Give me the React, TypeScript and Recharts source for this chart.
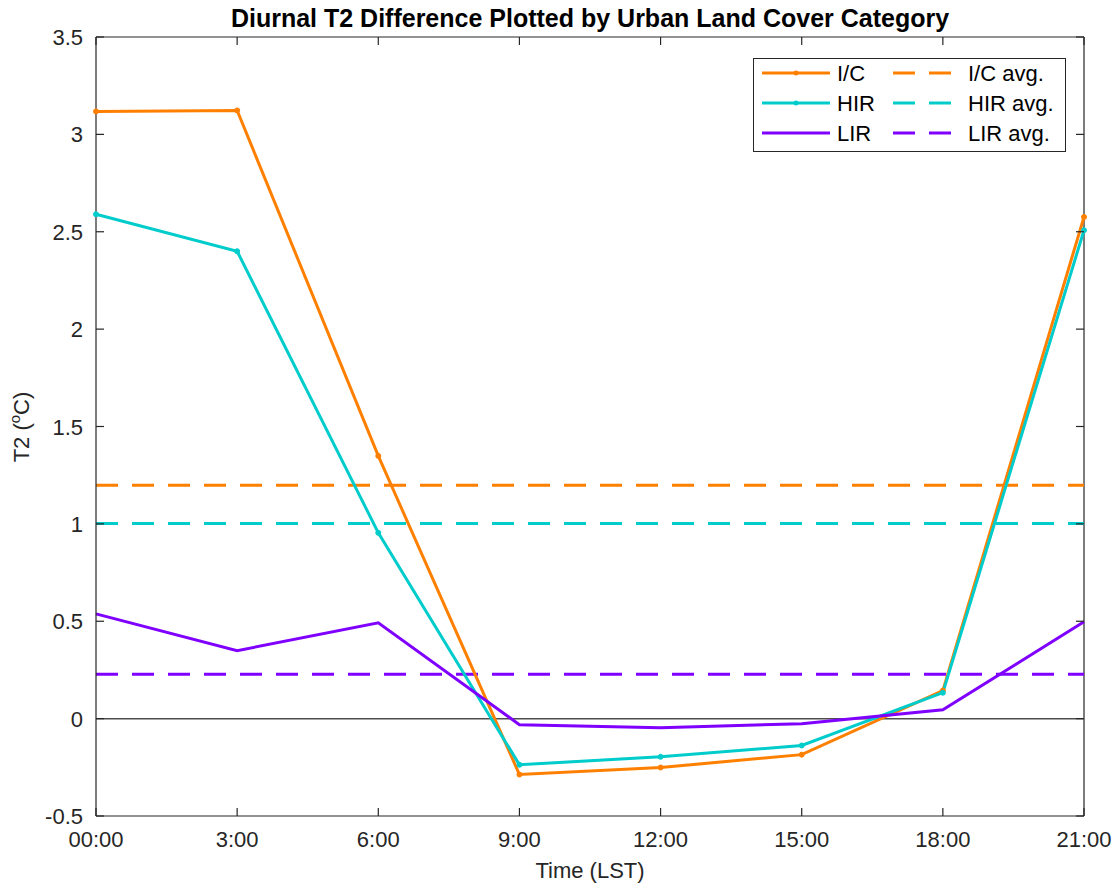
import React from 'react';
import { LineChart, Line, XAxis, YAxis, ReferenceLine, Legend } from 'recharts';

// Hour of day (LST) and the urban-minus-reference T2 difference for each land cover class
const hours = [0, 3, 6, 9, 12, 15, 18, 21];
const hourLabels = ['00:00', '3:00', '6:00', '9:00', '12:00', '15:00', '18:00', '21:00'];
const icValues = [3.118, 3.123, 1.349, -0.287, -0.251, -0.185, 0.144, 2.576];
const hirValues = [2.59, 2.4, 0.954, -0.237, -0.196, -0.138, 0.133, 2.508];
const lirValues = [0.538, 0.349, 0.492, -0.031, -0.047, -0.026, 0.046, 0.497];
const yTicks = [-0.5, 0, 0.5, 1, 1.5, 2, 2.5, 3, 3.5];
const yTickLabels = ['-0.5', '0', '0.5', '1', '1.5', '2', '2.5', '3', '3.5'];

const IC_COLOR = '#ff8000';
const HIR_COLOR = '#00cccc';
const LIR_COLOR = '#8000ff';
const AXIS_COLOR = '#262626';
const FONT = '"Liberation Sans", Arial, Helvetica, sans-serif';

// plot box (pixels inside the 1118x886 chart)
const BOX = { left: 96, right: 1084, top: 37, bottom: 816 };
const TICK_LEN = 8;
const X_TICK_GAP = 15;

const mean = (v: number[]) => v.reduce((a, b) => a + b, 0) / v.length;
const icAvg = mean(icValues);
const hirAvg = mean(hirValues);
const lirAvg = mean(lirValues);

const data = hours.map((h, i) => ({
  hour: h,
  ic: icValues[i],
  hir: hirValues[i],
  lir: lirValues[i],
}));

const legendItems = [
  { name: 'I/C', color: IC_COLOR, dashed: false, marker: true },
  { name: 'I/C avg.', color: IC_COLOR, dashed: true, marker: false },
  { name: 'HIR', color: HIR_COLOR, dashed: false, marker: true },
  { name: 'HIR avg.', color: HIR_COLOR, dashed: true, marker: false },
  { name: 'LIR', color: LIR_COLOR, dashed: false, marker: false },
  { name: 'LIR avg.', color: LIR_COLOR, dashed: true, marker: false },
];

const LegendBox = () => (
  <svg width={313} height={94} style={{ display: 'block' }}>
    <rect x={0.5} y={0.5} width={312} height={93} fill="#fff" stroke={AXIS_COLOR} strokeWidth={1} />
    {legendItems.map((it, i) => {
      const col = i % 2;
      const row = Math.floor(i / 2);
      const cy = 15 + row * 30;
      const lx = col === 0 ? 9 : 140;
      const lw = col === 0 ? 68 : 58;
      const tx = col === 0 ? 84 : 215;
      return (
        <g key={it.name}>
          <line
            x1={lx}
            x2={lx + lw}
            y1={cy}
            y2={cy}
            stroke={it.color}
            strokeWidth={3}
            strokeDasharray={it.dashed ? '22 14' : undefined}
          />
          {it.marker && <circle cx={lx + lw / 2} cy={cy} r={2.5} fill={it.color} />}
          <text x={tx} y={cy + 8} fontSize={22} fontFamily={FONT} fill="#000">
            {it.name}
          </text>
        </g>
      );
    })}
  </svg>
);

// x tick: label below the box, inward tick marks on the bottom and top edges
const XTick = (props: any) => {
  const { x, y, payload } = props;
  const v = payload.value as number;
  const label = hourLabels[hours.indexOf(v)] ?? '';
  const axisY = y - X_TICK_GAP;
  return (
    <g>
      <line x1={x} x2={x} y1={axisY} y2={axisY - TICK_LEN} stroke={AXIS_COLOR} strokeWidth={1.2} />
      <line x1={x} x2={x} y1={BOX.top} y2={BOX.top + TICK_LEN} stroke={AXIS_COLOR} strokeWidth={1.2} />
      <text x={x} y={y + 16} textAnchor="middle" fontSize={22} fontFamily={FONT} fill={AXIS_COLOR}>
        {label}
      </text>
    </g>
  );
};

// y tick: label left of the box, inward tick marks on the left and right edges
const YTick = (props: any) => {
  const { y, payload } = props;
  const v = payload.value as number;
  const label = yTickLabels[yTicks.indexOf(v)] ?? '';
  return (
    <g>
      <line x1={BOX.left} x2={BOX.left + TICK_LEN} y1={y} y2={y} stroke={AXIS_COLOR} strokeWidth={1.2} />
      <line x1={BOX.right} x2={BOX.right - TICK_LEN} y1={y} y2={y} stroke={AXIS_COLOR} strokeWidth={1.2} />
      <text x={BOX.left - 13} y={y + 8} textAnchor="end" fontSize={22} fontFamily={FONT} fill={AXIS_COLOR}>
        {label}
      </text>
    </g>
  );
};

const YLabel = () => (
  <text
    x={29}
    y={427}
    transform="rotate(-90, 29, 427)"
    textAnchor="middle"
    fontSize={22}
    fontFamily={FONT}
    fill={AXIS_COLOR}
  >
    T2 (<tspan fontSize={15} dy={-9}>o</tspan>
    <tspan dy={9}>C)</tspan>
  </text>
);

const dot = (color: string) => ({ r: 2.5, fill: color, stroke: color, strokeWidth: 1 });

export default function App() {
  return (
    <div style={{ position: 'absolute', left: 0, top: 0, width: 1118, height: 886, background: '#fff' }}>
      <div
        style={{
          position: 'absolute',
          left: BOX.left,
          width: BOX.right - BOX.left,
          top: 4,
          textAlign: 'center',
          fontFamily: FONT,
          fontWeight: 'bold',
          fontSize: 25,
          lineHeight: '29px',
          color: '#000',
        }}
      >
        Diurnal T2 Difference Plotted by Urban Land Cover Category
      </div>
      <LineChart
        width={1118}
        height={886}
        data={data}
        margin={{ top: BOX.top, right: 1118 - BOX.right, bottom: 0, left: BOX.left - 60 }}
        style={{ position: 'absolute', left: 0, top: 0 }}
      >
        <XAxis
          dataKey="hour"
          type="number"
          domain={[0, 21]}
          ticks={hours}
          height={70}
          interval={0}
          stroke={AXIS_COLOR}
          strokeWidth={1.2}
          tickLine={false}
          tickSize={0}
          tickMargin={X_TICK_GAP}
          tick={<XTick />}
          label={{ value: 'Time (LST)', position: 'insideBottom', offset: 8, fill: AXIS_COLOR, fontSize: 22, fontFamily: FONT }}
        />
        <YAxis
          type="number"
          domain={[-0.5, 3.5]}
          ticks={yTicks}
          width={60}
          interval={0}
          stroke={AXIS_COLOR}
          strokeWidth={1.2}
          tickLine={false}
          tick={<YTick />}
          label={{ content: YLabel }}
        />
        {/* closing edges of the plot box */}
        <ReferenceLine x={21} stroke={AXIS_COLOR} strokeWidth={1.2} />
        <ReferenceLine y={3.5} stroke={AXIS_COLOR} strokeWidth={1.2} />
        <ReferenceLine y={0} stroke="#4d4d4d" strokeWidth={1.5} />
        <ReferenceLine y={icAvg} stroke={IC_COLOR} strokeWidth={3} strokeDasharray="22 14" />
        <ReferenceLine y={hirAvg} stroke={HIR_COLOR} strokeWidth={3} strokeDasharray="22 14" />
        <ReferenceLine y={lirAvg} stroke={LIR_COLOR} strokeWidth={3} strokeDasharray="22 14" />
        <Line
          type="linear"
          dataKey="ic"
          name="I/C"
          stroke={IC_COLOR}
          strokeWidth={3}
          dot={dot(IC_COLOR)}
          activeDot={false}
          isAnimationActive={false}
        />
        <Line
          type="linear"
          dataKey="hir"
          name="HIR"
          stroke={HIR_COLOR}
          strokeWidth={3}
          dot={dot(HIR_COLOR)}
          activeDot={false}
          isAnimationActive={false}
        />
        <Line
          type="linear"
          dataKey="lir"
          name="LIR"
          stroke={LIR_COLOR}
          strokeWidth={3}
          dot={false}
          activeDot={false}
          isAnimationActive={false}
        />
        <Legend
          layout="horizontal"
          verticalAlign="middle"
          align="center"
          content={() => <LegendBox />}
          wrapperStyle={{ position: 'absolute', left: 753, top: 58, width: 313, height: 94, right: 'auto', bottom: 'auto' }}
        />
      </LineChart>
    </div>
  );
}
